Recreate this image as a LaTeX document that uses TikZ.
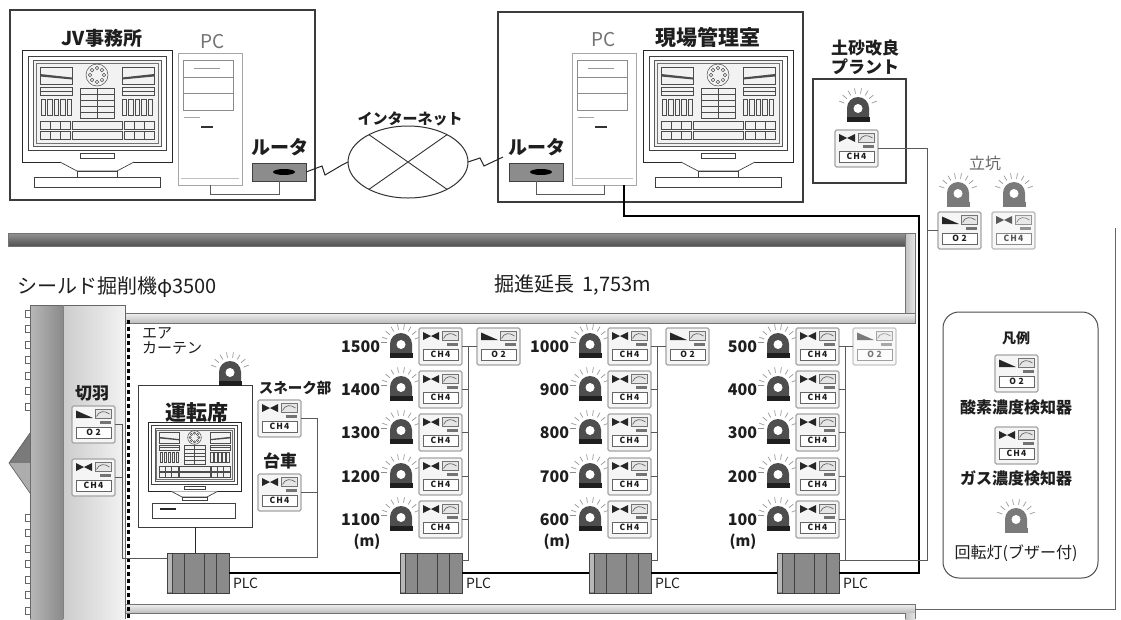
\documentclass[tikz,border=0pt]{standalone}
\usepackage{fontspec}
\setmainfont{Noto Sans CJK JP}
\usetikzlibrary{shapes.geometric,calc}

\definecolor{ink}{HTML}{1E1E1E}
\definecolor{framegray}{HTML}{3C3C3C}
\definecolor{sensoredge}{HTML}{A4A4A4}
\definecolor{lampbody}{HTML}{4E4E4E}
\definecolor{lampgray}{HTML}{7A7A7A}
\definecolor{plcfill}{HTML}{8A8A8A}
\definecolor{wire}{HTML}{5A5A5A}

\newcommand\fsz[1]{\fontsize{#1}{#1}\selectfont}

% rotating lamp (22 x 25, origin top left): dome colour, base colour
\newcommand\lampshape[2]{%
  \foreach \a in {200,220,...,340}
    \draw[black!40, line width=0.7pt] (11,11) ++(\a:14.5) -- ++(\a:5.5);
  \fill[#1] (0,22) -- (0,11) arc[start angle=180, end angle=360, radius=11] -- (22,22) -- cycle;
  \fill[#2] (-0.5,20) rectangle (22.5,25);
  \fill[white] (11,11.5) circle (4.5);
}
% body shared by both detector icons (43 x 37, origin top left)
\newcommand\detectorbody[1]{%
  \node[draw=sensoredge, fill=black!4, line width=1.2pt, rounded corners=1.5pt,
        minimum width=43pt, minimum height=37pt] (-b) at (21.5,18.5) {};
  \draw[black!55, fill=black!10, line width=0.5pt] (23,3.5) rectangle (39,12);
  \draw[black!65, line width=0.6pt] (24.5,10.5) .. controls (27,4.5) and (33,4.5) .. (37.5,8);
  \fill[black!55] (28,14.5) rectangle (38.5,18);
  \node[draw=black!60, fill=white, line width=0.6pt, minimum width=35pt,
        minimum height=11pt, font=\fsz{8.5}\bfseries] (-t) at (21.5,26.5) {#1};
}
% one distance row: label, lamp, gas detector and its tap onto the column bus
\newcommand\meterrow[5]{%
  \node[blbl=16, anchor=east] (n#1) at ({380+#2},#3) {#4};
  \draw[black!45, line width=0.6pt] ($(n#1.east)+(1,-5)$) -- ++(6,0);
  \pic at ({390+#2},{#3-14}) {lamp};
  \pic (#1) at ({419+#2},{#3-19}) {gas};
  \draw[wireline] (#1-b.east) -- (#1-b.east -| #5);
}

\tikzset{
  every node/.style={inner sep=0pt, outer sep=0pt, text=ink},
  lbl/.style={font=\fsz{#1}},
  blbl/.style={font=\fsz{#1}\bfseries},
  boxline/.style={draw=framegray, line width=1.1pt},
  wireline/.style={draw=wire, line width=0.8pt},
  mainline/.style={draw=black, line width=1.6pt},
  bolt/.style={draw=black!85, line width=1pt},
  router/.style={draw=black!75, fill=black!45, line width=0.8pt,
                 minimum width=54pt, minimum height=18pt},
  liner/.style={draw=black!55, line width=0.6pt},
  pics/lamp/.style={code={\lampshape{lampbody}{black!88}}},
  pics/greylamp/.style={code={\lampshape{lampgray}{lampgray}}},
  pics/gas/.style={code={
    \detectorbody{C\kern1.2pt H\kern1.2pt 4}
    \fill[black!85] (4,4) -- (12,8) -- (4,12) -- cycle;
    \fill[black!85] (20,4) -- (12,8) -- (20,12) -- cycle;
  }},
  pics/oxy/.style={code={
    \detectorbody{O\kern2.5pt 2}
    \fill[black!85] (4,4.5) -- (21,12) -- (4,12) -- cycle;
  }},
  pics/plc/.style={code={
    \node[draw=black!75, fill=plcfill, line width=0.8pt,
          minimum width=62pt, minimum height=40pt] (-b) at (31,20) {};
    \fill[black!28] (0.6,0.6) rectangle (5,39.4);
    \foreach \x in {5,17,37,49} \draw[black!75, line width=0.7pt] (\x,0) -- (\x,40);
  }},
  pics/pc/.style={code={
    \node[draw=black!35, fill=white, line width=0.8pt,
          minimum width=64pt, minimum height=132pt] (-b) at (32,66) {};
    \draw[black!45, line width=0.6pt] (5,7) rectangle (55,24) (5,24) rectangle (55,40) (5,40) rectangle (55,57);
    \draw[black!40, line width=0.5pt] (16,15) -- (42,15);
    \draw[black!35, line width=0.5pt] (6,64) -- (22,64);
    \draw[black!80, line width=1.2pt] (23,74) -- (35,74);
    \draw[black!25, line width=0.5pt] (3,125) -- (61,125);
  }},
  pics/monitor/.style={code={
    \draw[black!85, fill=white, line width=1pt] (0,0) rectangle (150,112);
    \draw[black!75, line width=0.8pt] (6,6) rectangle (144,100);
    \draw[black!65, fill=black!5, line width=0.6pt] (11,10) rectangle (139,96);
    \draw[black!55, line width=0.5pt] (14,13) rectangle (136,93);
    \begin{scope}[black!70, line width=0.5pt]
      \draw (18,17) rectangle (50,34) (100,17) rectangle (132,34);
      \fill (18,24) -- (50,27.5) -- (50,29.5) -- (18,26.5) -- cycle;
      \fill (132,24) -- (100,27.5) -- (100,29.5) -- (132,26.5) -- cycle;
      \draw (18,37) rectangle (50,41) (18,41) rectangle (50,45);
      \draw (100,37) rectangle (132,41) (100,41) rectangle (132,45);
      \foreach \x in {19,25.5,32,38.5,45} {
        \draw (\x,49) rectangle ++(4.5,16);
        \draw ({\x+81},49) rectangle ++(4.5,16);
      }
      \draw (75,25) circle (11);
      \foreach \a in {0,45,...,315} \draw (75,25) ++(\a:7) circle (1.8);
      \foreach \y in {38,44,50,56,62} \draw (58,\y) rectangle (92,{\y+6});
      \draw (75,38) -- (75,68);
      \foreach \y in {71,81} {
        \foreach \x in {18,28,38} \draw (\x,\y) rectangle ++(10,8);
        \draw (50,\y) rectangle (100,{\y+8});
        \foreach \x in {102,112,122} \draw (\x,\y) rectangle ++(10,8);
      }
    \end{scope}
    \draw[black!75, line width=0.7pt] (58,103) rectangle (92,108.5);
    \draw[black!75, fill=white, line width=0.7pt] (38,112) -- (55,121) -- (95,121) -- (112,112);
    \draw[black!75, fill=white, line width=0.7pt] (55,121) rectangle (95,127);
  }},
  pics/monbase/.style={code={
    \draw[black!75, fill=white, line width=0.8pt] (12,127) rectangle (138,137);
  }},
}

\begin{document}
\begin{tikzpicture}[x=1pt, y=-1pt]
\useasboundingbox (0,0) rectangle (1121,619);
\fill[white] (0,0) rectangle (1121,619);

% ===== ground structure: upper wall, shaft wall, tunnel lining =====
\shade[top color=black!42, bottom color=black!68] (8,233) rectangle (905,246);
\draw[liner] (8,233) rectangle (905,246);
\shade[left color=black!24, right color=black!10] (905,233) rectangle (915,313);
\draw[liner] (905,233) rectangle (915,313);
\shade[top color=black!6, bottom color=black!26] (123,313) rectangle (915,323);
\draw[liner] (123,313) rectangle (915,323);
\shade[top color=black!6, bottom color=black!26] (123,604) rectangle (915,613);
\draw[liner] (123,604) rectangle (915,613);
\shade[left color=black!24, right color=black!10] (905,613) rectangle (915,619);
\draw[liner] (905,619) -- (905,613) (915,613) -- (915,619);
\draw[black!60, line width=0.8pt] (915,609) -- (1115,609) -- (1115,228);

% ===== shield machine =====
\shade[left color=black!28, right color=black!46] (30,305) rectangle (63,619);
\shade[left color=black!20, right color=black!5] (63,305) rectangle (125,619);
\draw[black!60, line width=0.8pt] (30,619) -- (30,305) -- (125,305) -- (125,619);
\draw[black!50, line width=0.6pt] (63,305) -- (63,619);
\foreach \y in {310,325.5,...,404}
  \draw[black!60, line width=0.6pt] (30,\y) -- (25,\y) -- (25,{\y+7}) -- (30,{\y+7});
\foreach \y in {514,529.5,...,612}
  \draw[black!60, line width=0.6pt] (30,\y) -- (25,\y) -- (25,{\y+7}) -- (30,{\y+7});
\fill[black!52] (30,433) -- (9,463) -- (30,463) -- cycle;
\fill[black!32] (30,463) -- (9,463) -- (30,493) -- cycle;
\draw[black!65, line width=0.6pt] (30,433) -- (9,463) -- (30,493);
% air curtain
\foreach \y in {320,327,...,614} \fill[black] (127,\y) rectangle ++(3.2,3.6);

% ===== JV office =====
\draw[boxline] (10,10) rectangle (315,200);
\node[blbl=19] (tjv) at (102,38) {JV事務所};
\node[lbl=19, text=black!55] (tpc1) at (213,42) {PC};
\pic at (22,50) {monitor};
\pic at (22,50) {monbase};
\pic (pc1) at (178,53) {pc};
\node[router] (rt1) at (279,172) {};
\fill[black] ([xshift=5pt]rt1.center) ellipse (11 and 3);
\node[blbl=19] (trt1) at (280,147) {ルータ};

% ===== internet =====
\node[draw=black!80, line width=1pt, ellipse, minimum width=120pt, minimum height=72pt] (net) at (408,162) {};
\draw[black!80, line width=0.9pt] (net.145) -- (net.-35) (net.35) -- (net.-145);
\node[blbl=15] (tnet) at (410,119) {インターネット};

% ===== site control room =====
\draw[boxline] (498,12) rectangle (803,202);
\node[router] (rt2) at (536,172) {};
\fill[black] ([xshift=5pt]rt2.center) ellipse (11 and 3);
\node[blbl=19] (trt2) at (537,147) {ルータ};
\pic (pc2) at (572,53) {pc};
\node[lbl=19, text=black!55] (tpc2) at (604,40) {PC};
\node[blbl=21] (tgen) at (708,37) {現場管理室};
\pic at (643,50) {monitor};
\pic at (643,50) {monbase};

% ===== soil improvement plant =====
\node[blbl=17] (tpl1) at (865,48) {土砂改良};
\node[blbl=17] (tpl2) at (865,67) {プラント};
\draw[boxline] (813,79) rectangle (906,183);
\pic at (847,97) {lamp};
\pic (sp) at (835,130) {gas};

% ===== shaft =====
\node[lbl=16, text=black!60] (ttk) at (985,163) {立坑};
\pic at (947,182) {greylamp};
\pic (so) at (938,212) {oxy};
\pic at (1003,182) {greylamp};
\begin{scope}[opacity=0.75]
\pic (sc) at (992,212) {gas};
\end{scope}

% ===== headings =====
\node[lbl=20, anchor=west] (tshield) at (17,287) {シールド掘削機φ3500};
\node[lbl=20] (tlen) at (573,285) {掘進延長\hspace{8pt}1,753m};

% ===== face and operator cab =====
\node[lbl=15, anchor=west] (tair1) at (142,333) {エア};
\node[lbl=15, anchor=west] (tair2) at (142,348) {カーテン};
\node[blbl=17] (tface) at (92,393) {切羽};
\pic (fo) at (72,406) {oxy};
\pic (fc) at (72,459) {gas};

\node[draw=framegray, fill=white, line width=1pt, minimum width=114pt, minimum height=142pt] (op) at (195,456) {};
\pic at (219,361) {lamp};
\node[blbl=21] (top) at (197,413) {運転席};
\pic[scale=0.62] at (148,422) {monitor};
\draw[black!75, fill=white, line width=0.7pt] (152,503) rectangle (235,518);
\draw[black!85, line width=1.3pt] (160,509) -- (176,509);

\node[blbl=14.5] (tsn) at (295,388) {スネーク部};
\pic (sn) at (258,400) {gas};
\node[blbl=17] (tdai) at (280,461) {台車};
\pic (dai) at (258,474) {gas};

% ===== PLCs =====
\pic (p1) at (167,553) {plc};
\pic (p2) at (400,553) {plc};
\pic (p3) at (589,553) {plc};
\pic (p4) at (777,553) {plc};
\foreach \p in {p1,p2,p3,p4}
  \node[lbl=14, anchor=west] (l\p) at ($(\p-b.east)+(4,10)$) {PLC};

% ===== column buses =====
\coordinate (bb0) at (468,560);
\coordinate (bb1) at (657,560);
\coordinate (bb2) at (845,560);

\meterrow{a1}{0}{347}{1500}{bb0}
\meterrow{a2}{0}{390}{1400}{bb0}
\meterrow{a3}{0}{433}{1300}{bb0}
\meterrow{a4}{0}{477}{1200}{bb0}
\meterrow{a5}{0}{520}{1100}{bb0}
\pic (ao) at (477,328) {oxy};
\node[blbl=15] (ma) at (367,542) {(m)};

\meterrow{b1}{189}{347}{1000}{bb1}
\meterrow{b2}{189}{390}{900}{bb1}
\meterrow{b3}{189}{433}{800}{bb1}
\meterrow{b4}{189}{477}{700}{bb1}
\meterrow{b5}{189}{520}{600}{bb1}
\pic (bo) at (666,328) {oxy};
\node[blbl=15] (mb) at (557,542) {(m)};

\meterrow{c1}{377}{347}{500}{bb2}
\meterrow{c2}{377}{390}{400}{bb2}
\meterrow{c3}{377}{433}{300}{bb2}
\meterrow{c4}{377}{477}{200}{bb2}
\meterrow{c5}{377}{520}{100}{bb2}
\begin{scope}[opacity=0.6]
\pic (co) at (853,328) {oxy};
\end{scope}
\node[blbl=15] (mc) at (743,542) {(m)};

% ===== legend =====
\node[draw=black!70, line width=1pt, rounded corners=16pt, minimum width=155pt, minimum height=266pt] (leg) at (1020.5,445) {};
\node[blbl=14] (tleg) at (1016,338) {凡例};
\pic (lo) at (995,355) {oxy};
\node[blbl=16] (tlo) at (1016,407) {酸素濃度検知器};
\pic (lc) at (995,427) {gas};
\node[blbl=16] (tlc) at (1016,478) {ガス濃度検知器};
\pic at (1005,508) {greylamp};
\node[lbl=16] (tll) at (1016,553) {回転灯(ブザー付)};

% ===== wiring =====
\draw[wireline] (pc1-b.south) -- ++(0,9) -| (rt1.south);
\draw[wireline] (rt2.south) -- ++(0,13) -| (pc2-b.south);
\draw[bolt] (rt1.east) -- ++(16,-6) -- ++(3,9) -- ++(17,-10) -- (net.west);
\draw[bolt] (net.east) -- ++(12,-4) -- ++(4,8) -- ([shift={(-6pt,6pt)}]rt2.north west);

\coordinate (cr1) at (919,216);
\coordinate (cr2) at (927,560);
\draw[mainline] ([xshift=20pt]pc2-b.south) |- (cr1) |- (p4-b.east);
\draw[mainline] (p1-b.east) -- (p2-b.west) (p2-b.east) -- (p3-b.west) (p3-b.east) -- (p4-b.west);

\draw[wireline] (sp-b.east) -| (cr2) -- (bb2);
\draw[wireline] (so-b.west) -- (so-b.west -| cr2);

\draw[wireline] (ao-b.west) -- (ao-b.west -| bb0) -- (bb0) -- (bb0 -| p2-b.east);
\draw[wireline] (bo-b.west) -- (bo-b.west -| bb1) -- (bb1) -- (bb1 -| p3-b.east);
\draw[wireline] (co-b.west) -- (co-b.west -| bb2) -- (bb2) -- (bb2 -| p4-b.east);

\coordinate (cl1) at (122,558);
\coordinate (cl2) at (317,557);
\draw[wireline] (fo-b.east) -| (cl1) -- (cl1 -| p1-b.west);
\draw[wireline] (fc-b.east) -- (fc-b.east -| cl1);
\draw[wireline] (sn-b.east) -| (cl2) -- (cl2 -| p1-b.east);
\draw[wireline] (dai-b.east) -- (dai-b.east -| cl2);
\draw[wireline, black!85] (op.south) -- (op.south |- p1-b.north);
\end{tikzpicture}
\end{document}
